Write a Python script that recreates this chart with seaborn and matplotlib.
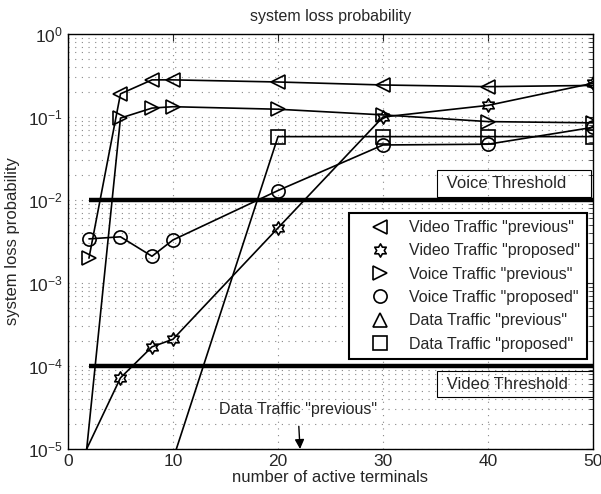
import numpy as np
import pandas as pd
import seaborn as sns
import matplotlib
matplotlib.use("Agg")
import matplotlib.pyplot as plt
from matplotlib.path import Path
from matplotlib.lines import Line2D
import matplotlib.ticker as mticker

# ---------------- data ----------------
x_video_prev = [2, 5, 8, 10, 20, 30, 40, 50]
y_video_prev = [2.0e-3, 0.19, 0.28, 0.28, 0.264, 0.243, 0.232, 0.24]

x_video_prop = [1, 5, 8, 10, 20, 30, 40, 50]
y_video_prop = [6.2e-6, 7.2e-5, 1.7e-4, 2.1e-4, 4.6e-3, 0.10, 0.138, 0.255]

x_voice_prev = [1, 5, 8, 10, 20, 30, 40, 50]
y_voice_prev = [1.07e-6, 0.097, 0.128, 0.133, 0.124, 0.106, 0.088, 0.085]
x_voice_prev_extra = [2]
y_voice_prev_extra = [2.0e-3]

x_voice_prop = [2, 5, 8, 10, 20, 30, 40, 50]
y_voice_prop = [3.4e-3, 3.6e-3, 2.1e-3, 3.3e-3, 0.013, 0.046, 0.047, 0.075]

x_data_prev = [20, 30, 40, 50]
y_data_prev = [1e-8, 1e-8, 1e-8, 1e-8]   # below the plotted range

x_data_prop = [10, 20, 30, 40, 50]
y_data_prop = [7.5e-6, 0.058, 0.058, 0.058, 0.058]

voice_threshold = 1e-2
video_threshold = 1e-4
threshold_x = [2, 50]

legend_labels = ['Video Traffic "previous"', 'Video Traffic "proposed"',
                 'Voice Traffic "previous"', 'Voice Traffic "proposed"',
                 'Data Traffic "previous"', 'Data Traffic "proposed"']

# ---------------- style ----------------
sns.set_style("white")
plt.rcParams['font.family'] = ['Liberation Sans', 'DejaVu Sans']
plt.rcParams['mathtext.fontset'] = 'custom'
plt.rcParams['mathtext.rm'] = 'Liberation Sans'
plt.rcParams['mathtext.it'] = 'Liberation Sans'
plt.rcParams['mathtext.default'] = 'regular'

# hexagram (star of David outline) marker
ang = np.pi / 2 + np.arange(12) * np.pi / 6
rad = np.where(np.arange(12) % 2 == 0, 1.0, 1.0 / np.sqrt(3))
verts = np.column_stack([rad * np.cos(ang), rad * np.sin(ang)])
verts = np.vstack([verts, verts[:1]])
hexagram = Path(verts, [Path.MOVETO] + [Path.LINETO] * 11 + [Path.CLOSEPOLY])

fig = plt.figure(figsize=(6.01, 4.94), dpi=100)
ax = fig.add_axes([0.1131, 0.0911, 0.8736, 0.8401])

ms = 9.5
mew = 1.2
lw = 1.2
common = dict(color='black', lw=lw, mfc='none', mec='black', mew=mew, ms=ms)

sns.lineplot(x=x_video_prev, y=y_video_prev, ax=ax, marker='<',
             markevery=list(range(1, len(x_video_prev))), **common)
sns.lineplot(x=x_video_prop, y=y_video_prop, ax=ax, marker=hexagram, **common)
sns.lineplot(x=x_voice_prev, y=y_voice_prev, ax=ax, marker='>', **common)
ax.plot(x_voice_prev_extra, y_voice_prev_extra, ls='none', marker='>',
        mfc='none', mec='black', mew=mew, ms=ms)
sns.lineplot(x=x_voice_prop, y=y_voice_prop, ax=ax, marker='o', **common)
sns.lineplot(x=x_data_prev, y=y_data_prev, ax=ax, marker='^', **common)
sns.lineplot(x=x_data_prop, y=y_data_prop, ax=ax, marker='s', **common)

# thresholds
ax.plot(threshold_x, [voice_threshold] * 2, color='black', lw=3.2, solid_capstyle='butt')
ax.plot(threshold_x, [video_threshold] * 2, color='black', lw=3.2, solid_capstyle='butt')

ax.set_yscale('log')
ax.set_xlim(0, 50)
ax.set_ylim(1e-5, 1)
ax.set_xticks([0, 10, 20, 30, 40, 50])
ax.yaxis.set_major_locator(mticker.LogLocator(base=10, numticks=10))
ax.yaxis.set_minor_locator(mticker.LogLocator(base=10, subs=np.arange(2, 10), numticks=10))
ax.yaxis.set_minor_formatter(mticker.NullFormatter())

grid_kw = dict(color='#888888', ls=(0, (1, 5)), lw=0.8)
ax.grid(True, which='major', axis='both', **grid_kw)
ax.grid(True, which='minor', axis='y', **grid_kw)
ax.tick_params(which='both', direction='in', top=True, right=True, labelsize=12.5)
ax.tick_params(which='major', length=5, width=0.8)
ax.tick_params(which='minor', length=3, width=0.6)
for s in ax.spines.values():
    s.set_linewidth(1.0)
    s.set_color('black')

ax.set_title('system loss probability', fontsize=11.5, pad=9)
ax.set_xlabel('number of active terminals', fontsize=12, labelpad=1)
ax.set_ylabel('system loss probability', fontsize=12, labelpad=6)

# threshold labels
bbox_kw = dict(boxstyle='square,pad=0.35', fc='none', ec='black', lw=0.8)
ax.text(35.66, 10 ** -1.80, ' Voice Threshold    ', ha='left', va='center',
        fontsize=12, bbox=bbox_kw)
ax.text(35.66, 10 ** -4.217, ' Video Threshold    ', ha='left', va='center',
        fontsize=12, bbox=bbox_kw)

# annotation
ax.annotate('Data Traffic "previous"', xy=(22.1, 1e-5), xytext=(21.9, 10 ** -4.53),
            ha='center', va='center', fontsize=11.5,
            arrowprops=dict(arrowstyle='-|>', color='black', lw=1.0,
                            mutation_scale=14, shrinkA=4, shrinkB=0))

# legend
markers = ['<', hexagram, '>', 'o', '^', 's']
handles = [Line2D([], [], ls='none', marker=m, mfc='none', mec='black', mew=mew, ms=ms)
           for m in markers]
leg = ax.legend(handles, legend_labels, loc='upper right',
                bbox_to_anchor=(0.9886, 0.5687), borderaxespad=0, fontsize=11.5,
                frameon=True, fancybox=False, framealpha=1, edgecolor='black',
                handlelength=3.0, handletextpad=0.3, labelspacing=0.52,
                borderpad=0.45)
leg.get_frame().set_linewidth(1.5)

fig.savefig('out.png', dpi=100)
